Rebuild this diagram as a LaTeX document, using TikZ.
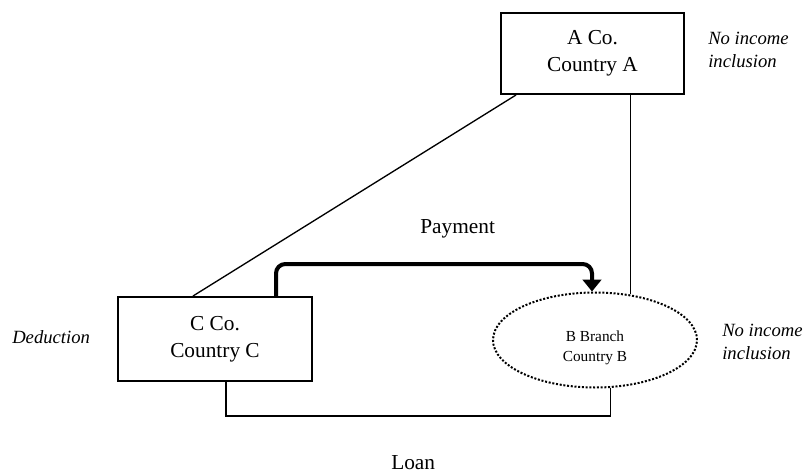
\documentclass[tikz,border=0pt]{standalone}
\usepackage{fontspec}
\setmainfont{Liberation Serif}
\usetikzlibrary{shapes.geometric,arrows.meta}

\begin{document}
\begin{tikzpicture}[x=0.75pt, y=-0.75pt,
                    block/.style={rectangle, draw, line width=1.5pt, align=center, inner sep=0pt, font=\fontsize{16}{20}\selectfont},
                    branch/.style={ellipse, draw, line width=1.5pt, dash pattern=on 1.5pt off 1.3pt, minimum width=153pt, minimum height=71.25pt, inner sep=0pt},
                    note/.style={inner sep=0pt, align=left, font=\fontsize{14}{17}\selectfont\itshape},
                    textlabel/.style={inner sep=0pt, font=\fontsize{16}{20}\selectfont},
                    link/.style={line width=1pt},
                    pay/.style={line width=3pt, rounded corners=7pt, -{Triangle[width=14pt,length=9pt]}}]
  \useasboundingbox (0,0) rectangle (804,475);
  \node[block, minimum width=137.25pt, minimum height=60.75pt] (aco) at (592.5,53.5) {A Co.\\Country A};
  \node[block, minimum width=145.5pt, minimum height=63pt] (cco) at (215,339) {C Co.\\Country C};
  \node[branch, label={[yshift=-6pt, align=center, font=\fontsize{11.5}{15}\selectfont]center:B Branch\\Country B}] (bbr) at (595,340) {};
  \node[note, anchor=west] (noteA) at (708,50) {No income\\inclusion};
  \node[note, anchor=west] (noteB) at (722,342) {No income\\inclusion};
  \node[note, anchor=base west] (noteC) at (12,343) {Deduction};
  \node[textlabel, anchor=base west] (paylabel) at (420,233) {Payment};
  \node[textlabel, anchor=base west] (loanlabel) at (391,469) {Loan};
  \draw[link] ([xshift=12pt]aco.south west) -- ([xshift=-16.5pt]cco.north);
  \draw[link] (bbr.52) -- (bbr.52 |- aco.south);
  \draw[link] ([xshift=8.25pt]cco.south) -- ++(0,34) -| (bbr.-72);
  \draw[pay] ([xshift=45.75pt]cco.north) -- ++(0,-32) -| ([xshift=-2.25pt]bbr.north);
\end{tikzpicture}
\end{document}
